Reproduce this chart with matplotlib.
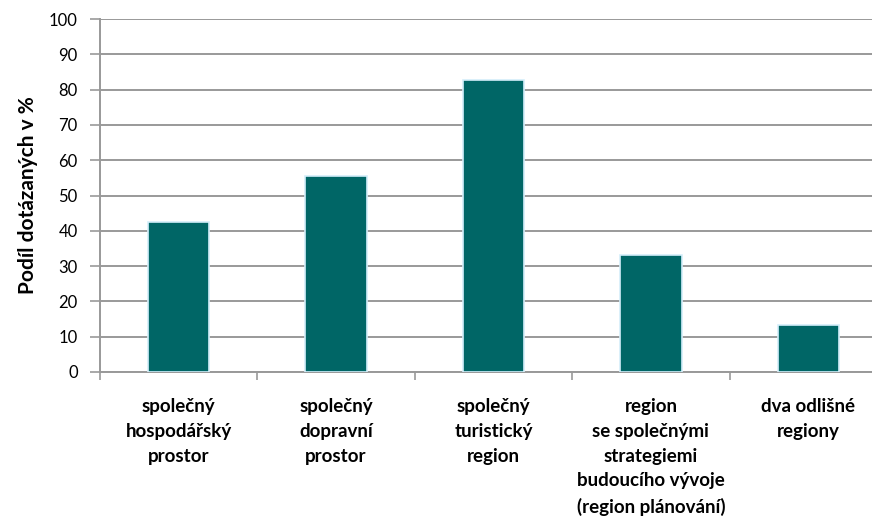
import matplotlib.pyplot as plt
import numpy as np

# data
categories = ['společný\nhospodářský\nprostor',
              'společný\ndopravní\nprostor',
              'společný\nturistický\nregion',
              'region\nse společnými\nstrategiemi\nbudoucího vývoje\n(region plánování)',
              'dva odlišné\nregiony']
values = [42.5, 55.5, 82.8, 33.2, 13.3]
yticks = list(range(0, 101, 10))

plt.rcParams['font.family'] = ['Lato', 'DejaVu Sans']

fig = plt.figure(figsize=(8.72, 5.17), dpi=100)
ax = fig.add_axes([100 / 872, 1 - 372 / 517, 787 / 872, 353 / 517])

x = np.arange(len(categories))
ax.bar(x, values, width=0.39, color='#006666', edgecolor='#d4eefa',
       linewidth=1.2, zorder=3)

ax.set_xlim(-0.5, len(categories) - 0.5)
ax.set_ylim(0, 100)
ax.set_yticks(yticks)
ax.yaxis.grid(True, color='#999999', linewidth=1.4, zorder=0)
ax.tick_params(axis='y', length=7, width=1.2, color='#999999',
               labelsize=12, pad=9)

# category labels centred, boundary tick marks below the axis
ax.set_xticks(x)
ax.set_xticklabels(categories, fontweight='bold', fontsize=13.5,
                   linespacing=1.55, va='top')
ax.tick_params(axis='x', which='major', length=0, pad=19)
ax.set_xticks(np.arange(len(categories) + 1) - 0.5, minor=True)
ax.tick_params(axis='x', which='minor', length=6, width=1.2, color='#999999')

for side in ['top', 'right']:
    ax.spines[side].set_visible(False)
for side in ['left', 'bottom']:
    ax.spines[side].set_color('#999999')
    ax.spines[side].set_linewidth(1.4)

ax.set_ylabel('Podíl dotázaných v %', fontweight='bold', fontsize=15,
              labelpad=8)

fig.savefig('out.png', dpi=100)
